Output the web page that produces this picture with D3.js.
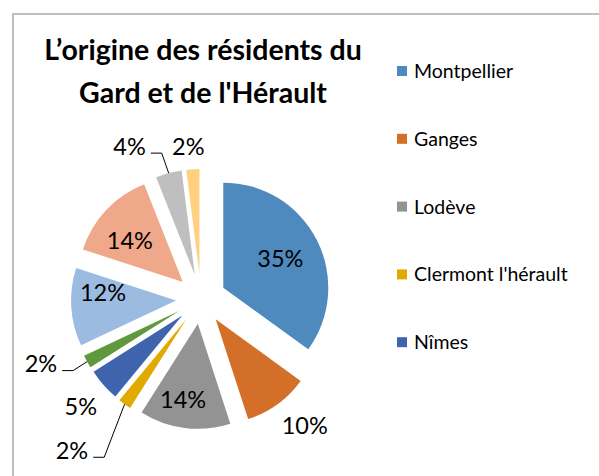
<!DOCTYPE html>
<html>
<head>
<meta charset="utf-8">
<script src="https://cdn.jsdelivr.net/npm/d3@7"></script>
<style>
  body { margin: 0; background: #fff; }
  text { font-family: Lato, "Open Sans", sans-serif; fill: #000; }
</style>
</head>
<body>
<svg id="chart"></svg>
<script>
// data (legend only shows the first five names)
const categories = ['Montpellier', 'Ganges', 'Lodève', "Clermont l'hérault", 'Nîmes',
                    'Autre 6', 'Autre 7', 'Autre 8', 'Autre 9', 'Autre 10'];
const values = [35, 10, 14, 2, 5, 2, 12, 14, 4, 2];
const colors = ['#4e8abe', '#d46f2a', '#939393', '#e2aa00', '#3e64ae',
                '#5e9a3d', '#9bbbe1', '#f0a88a', '#bfbfbf', '#ffd07f'];
const legendCount = 5;
const title = ["L’origine des résidents du", "Gard et de l'Hérault"];

// label layout: polar position [angle in deg, radius factor] from the slice tip, leader or not
const labelLayout = [
    [63, 0.61, false], [140, 1.32, false], [191, 0.74, false], [221, 1.66, true],
    [228, 1.30, false], [249, 1.41, true], [276, 0.70, false], [308, 0.64, false],
    [333, 1.37, true], [355, 1.22, false]
];

class ExplodedPie {
    constructor (config) {
        this.config = {
            parent: config.parent,
            width: config.width || 599,
            height: config.height || 476,
            cx: config.cx, cy: config.cy,
            radius: config.radius,
            explode: config.explode
        };
        this.init();
    }

    init() {
        let self = this;
        self.svg = d3.select(self.config.parent)
            .attr('width', self.config.width)
            .attr('height', self.config.height);

        // chart area border (runs off the right and bottom)
        self.svg.append('rect')
            .attr('x', 13).attr('y', 14)
            .attr('width', 800).attr('height', 800)
            .attr('fill', 'none')
            .attr('stroke', '#ababab')
            .attr('stroke-width', 1.5);

        self.svg.selectAll('.title')
            .data(title)
            .join('text')
            .attr('class', 'title')
            .attr('x', 203)
            .attr('y', (d, i) => 60 + i * 43)
            .attr('text-anchor', 'middle')
            .style('font-size', '28.5px')
            .style('font-weight', 'bold')
            .text(d => d);

        self.chart = self.svg.append('g')
            .attr('transform', `translate(${self.config.cx}, ${self.config.cy})`);
    }

    render() {
        let self = this;
        const r = self.config.radius;
        const pie = d3.pie().sort(null).value(d => d.value);
        const arc = d3.arc().innerRadius(0).outerRadius(r);
        const arcs = pie(categories.map((c, i) => ({ name: c, value: values[i], i: i })));

        const dir = a => [Math.sin(a), -Math.cos(a)];
        arcs.forEach(d => {
            const mid = (d.startAngle + d.endAngle) / 2;
            const u = dir(mid);
            d.tip = [u[0] * self.config.explode, u[1] * self.config.explode];
            d.outer = [d.tip[0] + u[0] * r, d.tip[1] + u[1] * r];
            const lay = labelLayout[d.data.i];
            const v = dir(lay[0] * Math.PI / 180);
            d.label = [d.tip[0] + v[0] * r * lay[1], d.tip[1] + v[1] * r * lay[1]];
            d.leader = lay[2];
        });

        self.chart.selectAll('path.slice')
            .data(arcs)
            .join('path')
            .attr('class', 'slice')
            .attr('transform', d => `translate(${d.tip[0]}, ${d.tip[1]})`)
            .attr('d', arc)
            .attr('fill', d => colors[d.data.i]);

        const labels = self.chart.selectAll('text.lbl')
            .data(arcs)
            .join('text')
            .attr('class', 'lbl')
            .attr('x', d => d.label[0])
            .attr('y', d => d.label[1])
            .attr('dy', '0.35em')
            .attr('text-anchor', 'middle')
            .style('font-size', '23.5px')
            .text(d => Math.round(d.value) + '%');

        labels.each(function(d) { d.tw = this.getComputedTextLength(); });

        self.chart.selectAll('polyline.leader')
            .data(arcs.filter(d => d.leader))
            .join('polyline')
            .attr('class', 'leader')
            .attr('fill', 'none')
            .attr('stroke', '#000')
            .attr('stroke-width', 1)
            .attr('points', d => {
                const x0 = d.label[0] + d.tw / 2 + 5;
                const y0 = d.label[1] + 6.5;
                return [[x0, y0], [x0 + 11, y0], d.outer].map(p => p.join(',')).join(' ');
            });

        // legend
        const legend = self.svg.selectAll('g.legend')
            .data(categories.slice(0, legendCount))
            .join('g')
            .attr('class', 'legend')
            .attr('transform', (d, i) => `translate(397, ${71 + i * 67.8})`);
        legend.append('rect')
            .attr('x', 0).attr('y', -5)
            .attr('width', 10).attr('height', 10)
            .attr('fill', (d, i) => colors[i]);
        legend.append('text')
            .attr('x', 17)
            .attr('dy', '0.36em')
            .style('font-size', '19.5px')
            .text(d => d);
    }
}

const chart = new ExplodedPie({ parent: '#chart', cx: 201, cy: 299, radius: 105, explode: 25 });
chart.render();
</script>
</body>
</html>
